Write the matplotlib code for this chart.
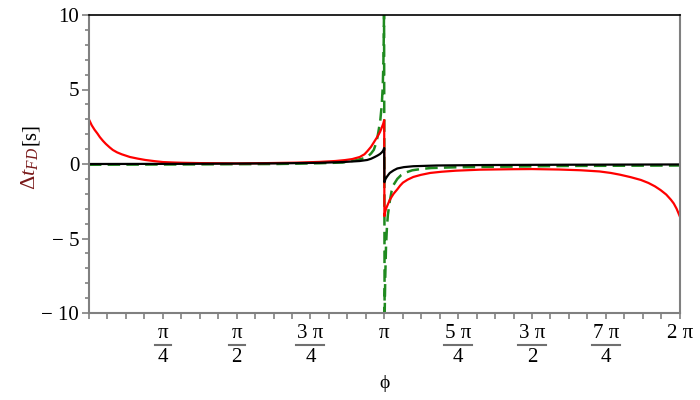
import matplotlib
matplotlib.use('Agg')
import matplotlib.pyplot as plt
import numpy as np
from matplotlib.ticker import FixedLocator, MultipleLocator
import matplotlib.transforms as mtransforms

plt.rcParams['font.family'] = ['Liberation Serif', 'DejaVu Serif']
plt.rcParams['mathtext.fontset'] = 'custom'
plt.rcParams['mathtext.rm'] = 'Liberation Serif'
plt.rcParams['mathtext.it'] = 'Liberation Serif:italic'
FONT_SIZE = 14

# values (phi in rad, delta t in s)
red_phi = [0.0, 0.03, 0.06, 0.09, 0.117, 0.15, 0.18, 0.22, 0.255, 0.3, 0.35, 0.436, 0.52,
           0.6, 0.7, 0.787, 0.9, 1.0, 1.18, 1.4, 1.57, 1.9, 2.2, 2.45, 2.62, 2.72, 2.8,
           2.88, 2.93, 2.96, 3.0, 3.04, 3.07, 3.096, 3.115, 3.13, 3.1405,
           3.1427, 3.15, 3.16, 3.18, 3.2, 3.22, 3.24, 3.28, 3.31, 3.34, 3.39, 3.45, 3.53,
           3.63, 3.75, 3.9, 4.16, 4.5, 4.71, 5.0, 5.23, 5.43, 5.55, 5.65, 5.76, 5.87,
           5.95, 6.02, 6.08, 6.14, 6.19, 6.22, 6.25, 6.27, 6.283]
red_dt = [3.0, 2.6, 2.3, 2.05, 1.8, 1.55, 1.35, 1.12, 0.94, 0.78, 0.65, 0.47, 0.36,
          0.27, 0.19, 0.13, 0.1, 0.08, 0.06, 0.05, 0.04, 0.06, 0.09, 0.14, 0.2, 0.26, 0.33,
          0.47, 0.65, 0.85, 1.15, 1.55, 1.85, 2.15, 2.45, 2.7, 2.95,
          -3.5, -3.25, -3.0, -2.7, -2.4, -2.2, -2.0, -1.7, -1.45, -1.25, -1.05, -0.87, -0.73,
          -0.6, -0.52, -0.45, -0.38, -0.35, -0.34, -0.37, -0.42, -0.5, -0.6, -0.72, -0.88, -1.07,
          -1.27, -1.5, -1.75, -2.05, -2.4, -2.65, -3.0, -3.3, -3.5]

black_phi = [0.0, 1.0, 2.0, 2.45, 2.7, 2.88, 2.96, 3.0, 3.04, 3.07, 3.096, 3.115, 3.13, 3.1405,
             3.1427, 3.155, 3.17, 3.185, 3.2, 3.24, 3.28, 3.35, 3.45, 3.7, 4.2, 5.0, 6.283]
black_dt = [0.0, 0.01, 0.04, 0.08, 0.13, 0.2, 0.27, 0.35, 0.47, 0.57, 0.67, 0.78, 0.9, 1.07,
            -1.22, -1.0, -0.85, -0.72, -0.6, -0.43, -0.3, -0.21, -0.15, -0.1, -0.07, -0.05, -0.03]

green_phi = [0.0, 1.0, 2.0, 2.45, 2.7, 2.84, 2.92, 2.96, 3.0, 3.03, 3.06, 3.08, 3.1, 3.115,
             3.125, 3.132, 3.136, 3.139,
             3.145, 3.148, 3.152, 3.16, 3.17, 3.18, 3.2, 3.22, 3.24, 3.28, 3.32, 3.38, 3.44,
             3.54, 3.64, 3.9, 4.14, 4.37, 5.1, 6.283]
green_dt = [-0.05, -0.03, 0.0, 0.05, 0.1, 0.25, 0.38, 0.47, 0.7, 0.95, 1.5, 2.2, 3.0, 4.0,
            5.2, 6.8, 8.5, 10.5,
            -10.5, -9.0, -7.5, -5.5, -4.2, -3.4, -2.5, -1.8, -1.4, -1.0, -0.75, -0.55, -0.42,
            -0.33, -0.27, -0.22, -0.2, -0.18, -0.13, -0.1]

xtick_vals = [np.pi / 4, np.pi / 2, 3 * np.pi / 4, np.pi, 5 * np.pi / 4, 3 * np.pi / 2, 7 * np.pi / 4, 2 * np.pi]
xtick_num = ['\u03c0', '\u03c0', '3 \u03c0', '\u03c0', '5 \u03c0', '3 \u03c0', '7 \u03c0', '2 \u03c0']
xtick_den = ['4', '2', '4', '', '4', '2', '4', '']
ytick_vals = [-10, -5, 0, 5, 10]
ytick_labels = ['\u2212 10', '\u2212 5', '0', '5', '10']

fig = plt.figure(figsize=(7, 4), dpi=100)
ax = fig.add_axes([0.127, 0.2175, 0.844, 0.745])

ax.plot(green_phi, green_dt, color='#1f8a1f', linewidth=1.8, dashes=(5, 2.5))
ax.plot(red_phi, red_dt, color='#ff0000', linewidth=1.6)
ax.plot(black_phi, black_dt, color='black', linewidth=1.6)

ax.set_xlim(0, 2 * np.pi)
ax.set_ylim(-10, 10)

ax.xaxis.set_major_locator(FixedLocator(xtick_vals))
ax.set_xticklabels([''] * len(xtick_vals))
ax.xaxis.set_minor_locator(MultipleLocator(np.pi / 16))
ax.yaxis.set_major_locator(FixedLocator(ytick_vals))
ax.set_yticklabels(ytick_labels, fontsize=FONT_SIZE + 1)
ax.yaxis.set_minor_locator(MultipleLocator(1))

ax.tick_params(axis='both', which='both', direction='out', color='#808080', width=1.2)
ax.tick_params(axis='x', which='both', length=4)
ax.tick_params(axis='y', which='major', length=5, pad=2)
ax.tick_params(axis='y', which='minor', length=3)

for side in ['left', 'bottom', 'right']:
    ax.spines[side].set_color('#808080')
    ax.spines[side].set_linewidth(1.5)
ax.spines['top'].set_color('black')
ax.spines['top'].set_linewidth(1.2)

# stacked fraction tick labels
trans = mtransforms.blended_transform_factory(ax.transData, ax.transAxes)
px = 72 / 100
for v, num, den in zip(xtick_vals, xtick_num, xtick_den):
    ax.annotate(num, xy=(v, 0), xycoords=trans, xytext=(0, -20 * px), textcoords='offset points',
                ha='center', va='center', fontsize=FONT_SIZE + 1, annotation_clip=False)
    if den:
        ax.annotate(den, xy=(v, 0), xycoords=trans, xytext=(0, -45 * px), textcoords='offset points',
                    ha='center', va='center', fontsize=FONT_SIZE + 1, annotation_clip=False)
        half = (8 if len(num) == 1 else 14) / 94.06
        ax.plot([v - half, v + half], [-32 / 298, -32 / 298], transform=trans,
                color='#707070', linewidth=1.5, clip_on=False)

# axis labels
fig.text(384 / 700, 1 - 383 / 400, '\u03d5', ha='center', va='center', fontsize=FONT_SIZE)
fig.text(30 / 700, 1 - 147 / 400, r'$\Delta t_{FD}$', rotation=90, ha='center', va='top',
         fontsize=FONT_SIZE + 2, color='#7a1a1a')
fig.text(30 / 700, 1 - 145 / 400, '[s]', rotation=90, ha='center', va='bottom',
         fontsize=FONT_SIZE + 1, color='black')

plt.savefig('out.png', dpi=100)
